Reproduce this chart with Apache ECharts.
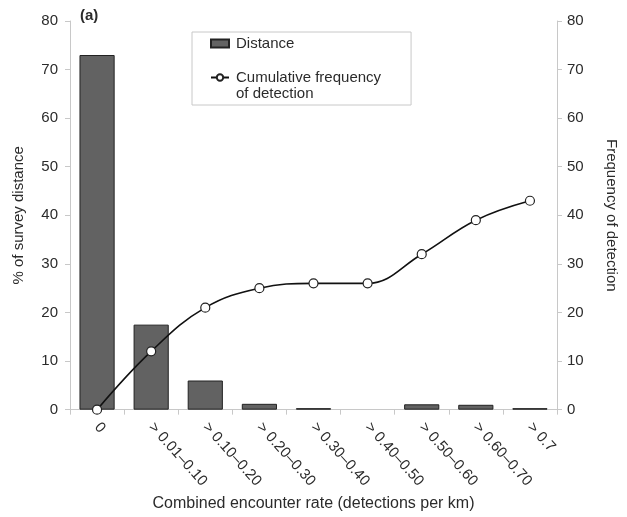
<!DOCTYPE html>
<html>
<head>
<meta charset="utf-8">
<script src="https://cdn.jsdelivr.net/npm/echarts@6/dist/echarts.min.js"></script>
<style>
  html, body { margin: 0; padding: 0; background: #fff; }
  #main { width: 627px; height: 517px; }
</style>
</head>
<body>
<div id="main"></div>
<script>
// categories on the x axis
var categories = ['0', '> 0.01\u20130.10', '> 0.10\u20130.20', '> 0.20\u20130.30', '> 0.30\u20130.40',
                  '> 0.40\u20130.50', '> 0.50\u20130.60', '> 0.60\u20130.70', '> 0.7'];
// % of survey distance (bars)
var distance = [73, 17.5, 6, 1.2, 0.3, 0, 1.1, 1.0, 0.3];
// cumulative frequency of detection (line)
var cumFreq = [0, 12, 21, 25, 26, 26, 32, 39, 43];

var myChart = echarts.init(document.getElementById('main'));
var txt = '#2b2b2b';
var font = 'Liberation Sans, Arial, sans-serif';

var option = {
    backgroundColor: '#fff',
    animation: false,
    textStyle: {fontFamily: font, color: txt},
    grid: {left: 70, right: 70, top: 21, bottom: 107},
    graphic: [
        {
            type: 'text', left: 80, top: 8,
            style: {text: '(a)', font: 'bold 15px ' + font, fill: txt}
        },
        {
            // second line of the legend label, the marker sits on the first line
            type: 'text', left: 236, top: 86,
            style: {text: 'of detection', font: '15px ' + font, fill: txt}
        }
    ],
    legend: {
        orient: 'vertical',
        left: 192, top: 32,
        padding: [3, 30, 19, 18],
        itemGap: 17,
        itemWidth: 18, itemHeight: 8,
        borderColor: '#c8c8c8', borderWidth: 1,
        textStyle: {fontSize: 15, color: txt, fontFamily: font, lineHeight: 17, padding: [0, 0, 0, 2]},
        data: [
            {name: 'Distance', icon: 'rect'},
            {name: 'Cumulative frequency'}
        ]
    },
    xAxis: {
        type: 'category',
        data: categories,
        name: 'Combined encounter rate (detections per km)',
        nameLocation: 'middle',
        nameGap: 85,
        nameTextStyle: {fontSize: 16, color: txt},
        axisLine: {lineStyle: {color: '#c8c8c8'}},
        axisTick: {show: true, length: 5, lineStyle: {color: '#c8c8c8'}},
        axisLabel: {rotate: -48, fontSize: 15, color: txt, margin: 15, interval: 0}
    },
    yAxis: [
        {
            type: 'value', min: 0, max: 80, interval: 10,
            name: '% of survey distance',
            nameLocation: 'middle', nameGap: 44,
            nameTextStyle: {fontSize: 15, color: txt},
            axisLine: {show: true, lineStyle: {color: '#c8c8c8'}},
            axisTick: {show: true, length: 5, lineStyle: {color: '#c8c8c8'}},
            axisLabel: {fontSize: 15, color: txt, margin: 12},
            splitLine: {show: false}
        },
        {
            type: 'value', min: 0, max: 80, interval: 10,
            position: 'right',
            name: 'Frequency of detection',
            nameLocation: 'middle', nameGap: 47, nameRotate: -90,
            nameTextStyle: {fontSize: 15, color: txt},
            axisLine: {show: true, lineStyle: {color: '#c8c8c8'}},
            axisTick: {show: true, length: 5, lineStyle: {color: '#c8c8c8'}},
            axisLabel: {fontSize: 15, color: txt, margin: 10},
            splitLine: {show: false}
        }
    ],
    series: [
        {
            name: 'Distance',
            type: 'bar',
            // an empty class draws no bar at all
            data: distance.map(function(v) { return v === 0 ? '-' : v; }),
            barWidth: '65%',
            itemStyle: {color: '#626262', borderColor: '#222', borderWidth: 1}
        },
        {
            name: 'Cumulative frequency',
            type: 'line',
            yAxisIndex: 1,
            data: cumFreq,
            smooth: 0.4,
            symbol: 'circle',
            symbolSize: 9,
            lineStyle: {color: '#111', width: 1.6},
            itemStyle: {color: '#fff', borderColor: '#222', borderWidth: 1.2}
        }
    ]
};
myChart.setOption(option);
</script>
</body>
</html>
